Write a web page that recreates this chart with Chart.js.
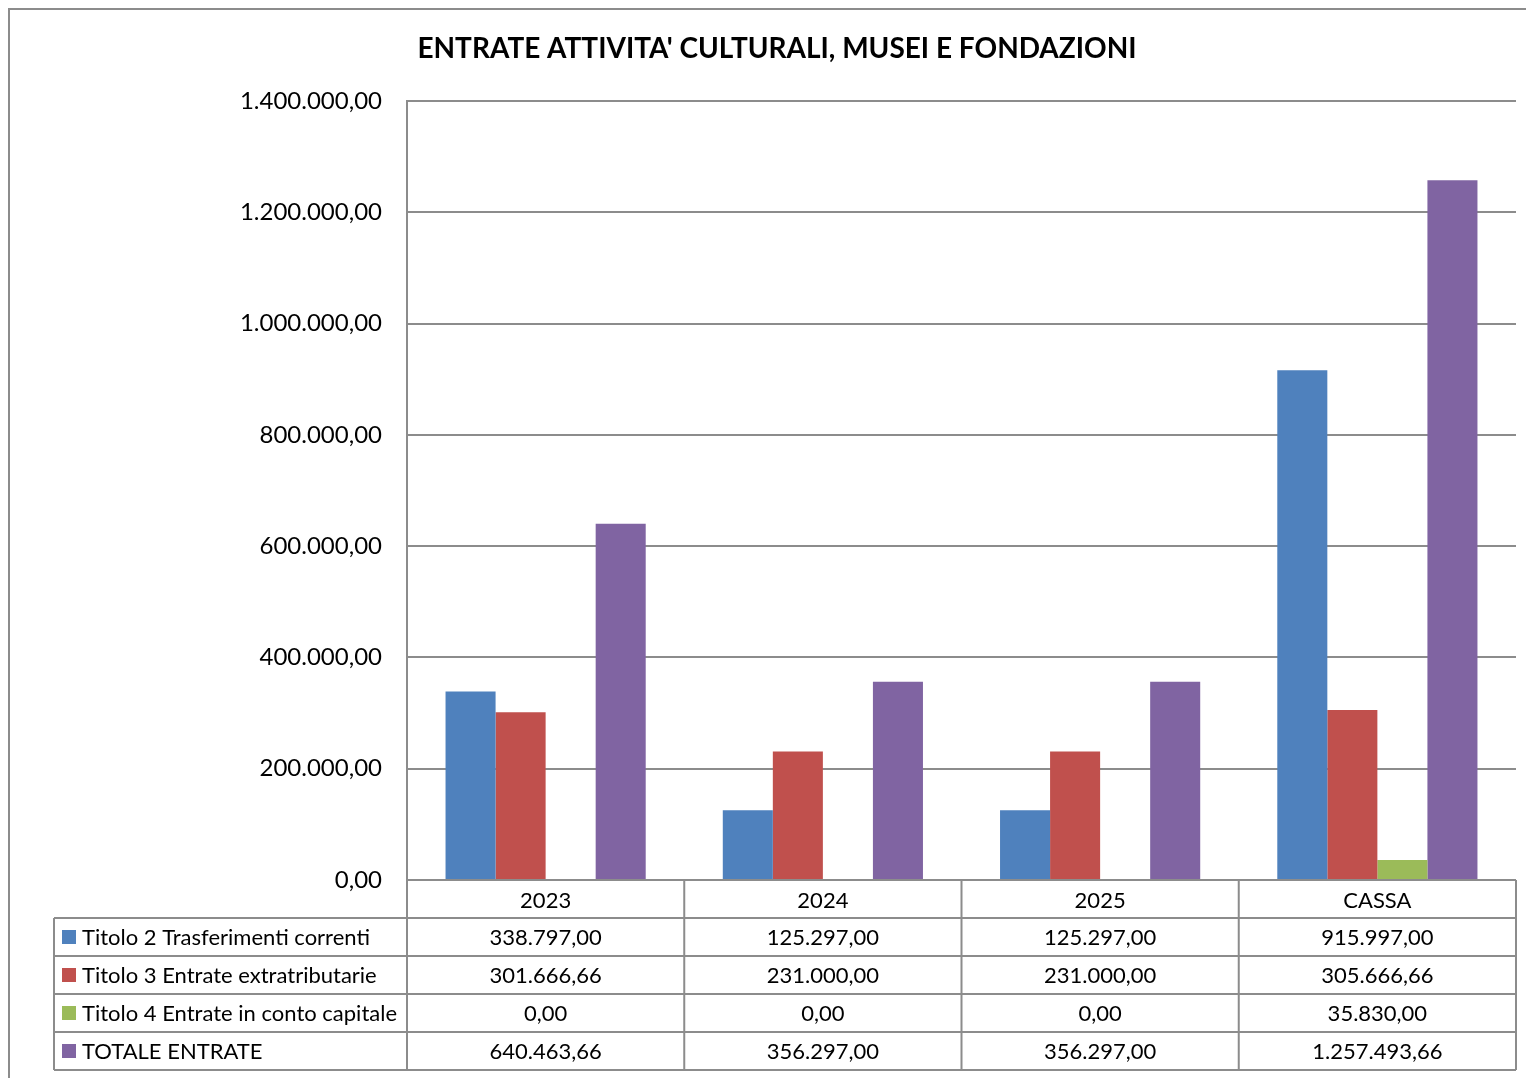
<!DOCTYPE html>
<html>
<head>
<meta charset="utf-8">
<script src="https://cdn.jsdelivr.net/npm/chart.js@4.4.1/dist/chart.umd.min.js"></script>
<style>
  html, body { margin: 0; padding: 0; background: #fff; }
  #wrap { position: absolute; left: 0; top: 0; width: 1526px; height: 1078px; }
</style>
</head>
<body>
<div id="wrap"><canvas id="chart"></canvas></div>
<script>
const chartTitle = "ENTRATE ATTIVITA' CULTURALI, MUSEI E FONDAZIONI"
const categories = ['2023', '2024', '2025', 'CASSA']
const titolo2 = [338797.00, 125297.00, 125297.00, 915997.00]
const titolo3 = [301666.66, 231000.00, 231000.00, 305666.66]
const titolo4 = [0, 0, 0, 35830.00]
const totale = [640463.66, 356297.00, 356297.00, 1257493.66]
const seriesNames = ['Titolo 2 Trasferimenti correnti', 'Titolo 3 Entrate extratributarie', 'Titolo 4 Entrate in conto capitale', 'TOTALE ENTRATE']
const seriesColors = ['#4F81BD', '#C0504D', '#9BBB59', '#8064A2']
const FONT = 'Lato, "Liberation Sans", sans-serif'

function fmt(v) {
    const neg = v < 0
    const parts = Math.abs(v).toFixed(2).split('.')
    const intPart = parts[0].replace(/\B(?=(\d{3})+(?!\d))/g, '.')
    return (neg ? '-' : '') + intPart + ',' + parts[1]
}

const allSeries = [titolo2, titolo3, titolo4, totale]
const gridColor = '#8c8c8c'

// draws the frame, the title and the data table under the plot
const tablePlugin = {
    id: 'tablePlugin',
    afterDraw(chart) {
        const ctx = chart.ctx
        const area = chart.chartArea
        const x = chart.scales.x
        const rowH = 38
        const left = 54
        ctx.save()
        // frame
        ctx.strokeStyle = '#8c8c8c'
        ctx.lineWidth = 2
        ctx.strokeRect(9, 9, 1540, 1100)
        // title
        ctx.fillStyle = '#000'
        ctx.font = 'bold 28px ' + FONT
        ctx.textAlign = 'center'
        ctx.textBaseline = 'middle'
        ctx.fillText(chartTitle, 777, 49)

        const step = (area.right - area.left) / categories.length
        ctx.strokeStyle = gridColor
        ctx.lineWidth = 2
        ctx.beginPath()
        // vertical lines for category columns
        for (let i = 0; i <= categories.length; i++) {
            const cx = area.left + i * step
            ctx.moveTo(cx, area.bottom)
            ctx.lineTo(cx, area.bottom + rowH * 5)
        }
        // left column
        ctx.moveTo(left, area.bottom + rowH)
        ctx.lineTo(left, area.bottom + rowH * 5)
        // horizontal lines
        ctx.moveTo(area.left, area.bottom)
        ctx.lineTo(area.right, area.bottom)
        for (let r = 1; r <= 5; r++) {
            ctx.moveTo(left, area.bottom + r * rowH)
            ctx.lineTo(area.right, area.bottom + r * rowH)
        }
        ctx.stroke()

        ctx.font = '22px ' + FONT
        ctx.fillStyle = '#000'
        ctx.textBaseline = 'middle'
        for (let s = 0; s < allSeries.length; s++) {
            const cy = area.bottom + (s + 1.5) * rowH
            ctx.fillStyle = seriesColors[s]
            ctx.fillRect(62, cy - 7, 14, 14)
            ctx.fillStyle = '#000'
            ctx.textAlign = 'left'
            ctx.fillText(seriesNames[s], 82, cy + 1)
            ctx.textAlign = 'center'
            for (let i = 0; i < categories.length; i++) {
                ctx.fillText(fmt(allSeries[s][i]), x.getPixelForValue(i), cy + 1)
            }
        }
        ctx.restore()
    }
}

new Chart(document.getElementById('chart'), {
    type: 'bar',
    data: {
        labels: categories,
        datasets: allSeries.map((d, i) => ({
            label: seriesNames[i],
            data: d,
            backgroundColor: seriesColors[i],
            borderWidth: 0,
            categoryPercentage: 0.722,
            barPercentage: 1
        }))
    },
    options: {
        responsive: true,
        maintainAspectRatio: false,
        animation: false,
        layout: { padding: { top: 101, right: 10, left: 0, bottom: 0 } },
        plugins: {
            legend: { display: false },
            title: { display: false },
            tooltip: { enabled: false }
        },
        scales: {
            x: {
                grid: { display: false },
                border: { display: false },
                ticks: { color: '#000', font: { family: FONT, size: 22 }, padding: 0 },
                afterFit: s => { s.height = 198 }
            },
            y: {
                min: 0,
                max: 1400000,
                ticks: {
                    stepSize: 200000,
                    color: '#000',
                    font: { family: FONT, size: 24 },
                    padding: 25,
                    callback: v => fmt(v)
                },
                grid: { color: gridColor, lineWidth: 2, drawTicks: false },
                border: { color: gridColor, width: 2 },
                afterFit: s => { s.width = 407 }
            }
        }
    },
    plugins: [tablePlugin]
})
</script>
</body>
</html>
